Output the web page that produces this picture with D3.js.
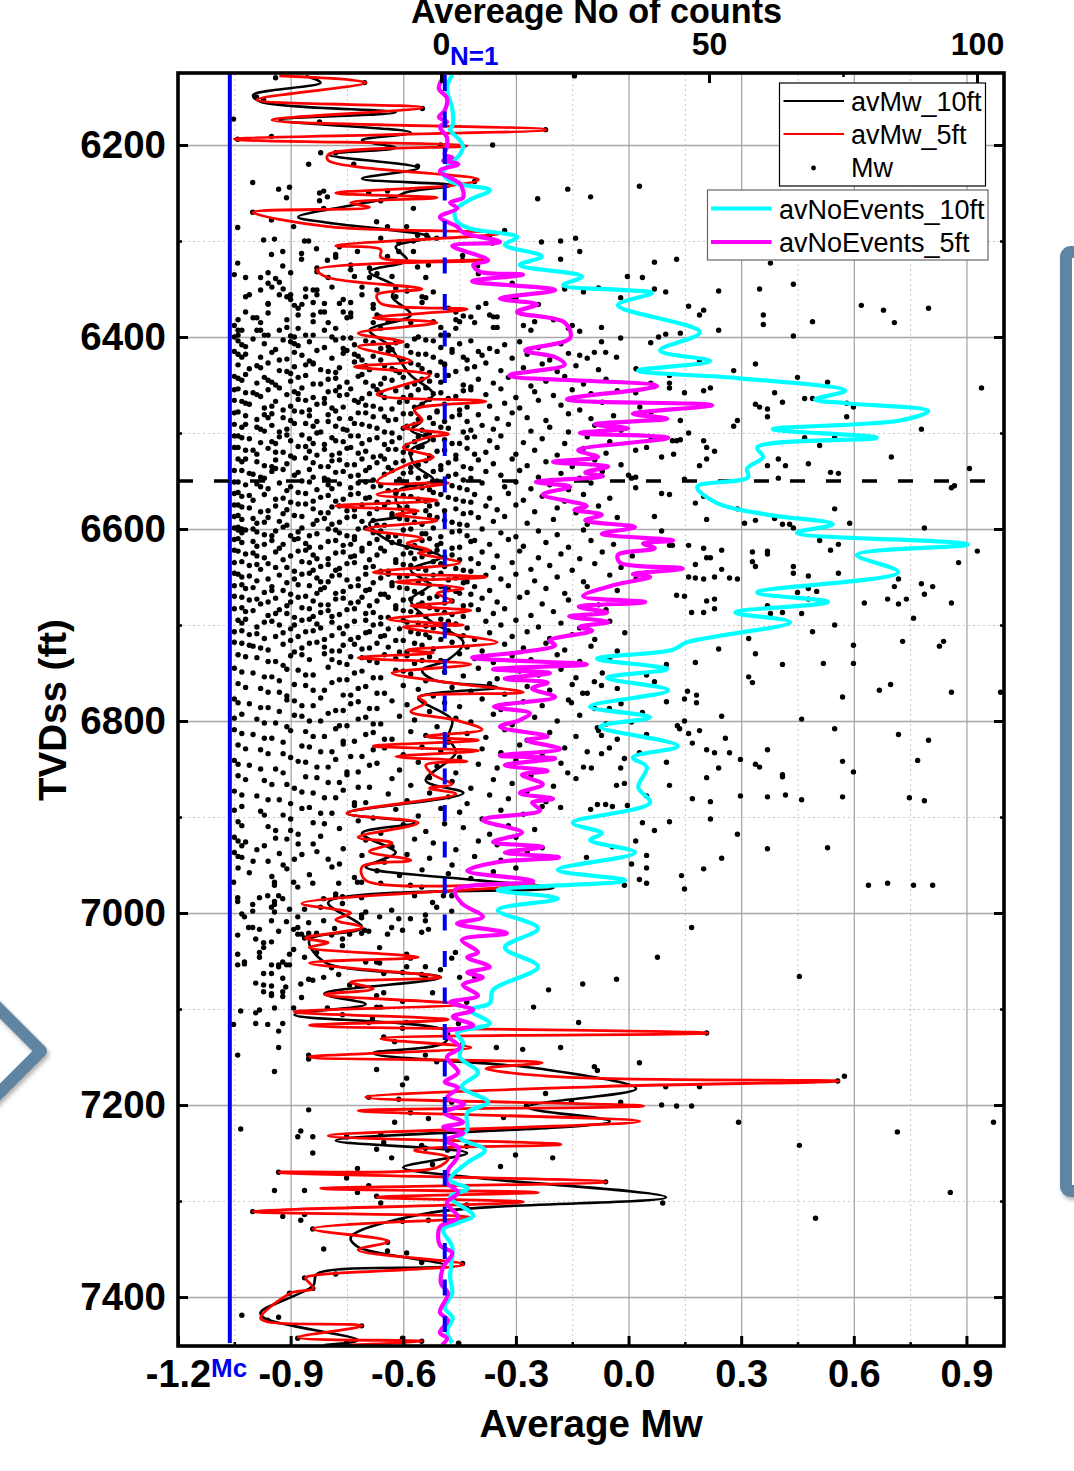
<!DOCTYPE html>
<html lang="en">
<head>
    <meta charset="UTF-8">
    <title>Average Mw vs TVDss</title>
    <script src="https://cdn.jsdelivr.net/npm/d3@7/dist/d3.min.js"></script>
    <style>
        html, body { margin: 0; background: #fff; }
        svg { display: block; font-family: "Liberation Sans", Arial, sans-serif; }
        .ticklab text { font-weight: bold; fill: #000; }
        .ticklab path, .ticklab line { display: none; }
        .grid path, .ticks path { display: none; }
        .ticks line { stroke: #000; stroke-width: 3; }
        .minorticks line { stroke-width: 2.5; }
    </style>
</head>
<body>
<svg></svg>
<script>
    // [depth ft, Mw]
    const avMw10 = [[6128,-.86],[6135,-.82],[6148,-1.00],[6155,-.98],[6166,-.62],[6174,-.93],[6187,-.58],[6195,-.71],[6203,-.62],[6210,-.80],[6224,-.56],[6235,-.71],[6242,-.47],[6249,-.59],[6254,-.62],[6263,-.74],[6275,-.88],[6281,-.80],[6296,-.53],[6306,-.62],[6320,-.59],[6332,-.69],[6348,-.62],[6358,-.63],[6377,-.58],[6393,-.69],[6408,-.64],[6424,-.61],[6440,-.58],[6460,-.52],[6476,-.57],[6487,-.55],[6497,-.58],[6507,-.53],[6518,-.58],[6533,-.57],[6549,-.52],[6559,-.61],[6570,-.62],[6585,-.60],[6594,-.69],[6612,-.64],[6629,-.50],[6643,-.58],[6658,-.53],[6674,-.58],[6695,-.53],[6718,-.44],[6736,-.48],[6747,-.55],[6757,-.52],[6765,-.35],[6776,-.56],[6799,-.47],[6817,-.48],[6833,-.46],[6862,-.54],[6875,-.44],[6896,-.75],[6906,-.57],[6917,-.71],[6937,-.62],[6945,-.66],[6952,-.70],[6966,-.40],[6974,-.20],[6989,-.80],[7015,-.71],[7028,-.85],[7051,-.81],[7067,-.50],[7084,-.81],[7095,-.70],[7106,-.89],[7124,-.48],[7135,-.49],[7146,-.68],[7162,-.24],[7183,.02],[7202,-.27],[7217,-.05],[7237,-.78],[7250,-.43],[7265,-.60],[7276,-.40],[7296,.10],[7313,-.54],[7338,-.74],[7348,-.72],[7367,-.49],[7376,-.83],[7388,-.84],[7416,-.98],[7422,-.97],[7445,-.72],[7450,-.81]];

    const avMw5 = [[6128,-.93],[6135,-.70],[6153,-.99],[6161,-.55],[6174,-.95],[6184,-.22],[6194,-1.05],[6201,-.43],[6210,-.80],[6216,-.80],[6236,-.40],[6242,-.47],[6250,-.78],[6255,-.51],[6260,-.74],[6265,-.69],[6270,-1.00],[6285,-.80],[6292,-.34],[6305,-.78],[6309,-.66],[6317,-.66],[6320,-.38],[6330,-.83],[6338,-.80],[6350,-.55],[6356,-.67],[6365,-.66],[6371,-.43],[6380,-.68],[6385,-.51],[6396,-.72],[6405,-.60],[6410,-.72],[6425,-.58],[6431,-.73],[6440,-.53],[6460,-.67],[6467,-.38],[6476,-.57],[6487,-.55],[6494,-.60],[6501,-.48],[6505,-.54],[6515,-.60],[6525,-.52],[6533,-.59],[6551,-.67],[6552,-.48],[6564,-.67],[6570,-.51],[6576,-.78],[6581,-.56],[6585,-.62],[6591,-.51],[6600,-.70],[6610,-.55],[6615,-.59],[6622,-.53],[6625,-.56],[6635,-.45],[6645,-.68],[6650,-.38],[6655,-.62],[6662,-.44],[6667,-.51],[6675,-.47],[6680,-.58],[6685,-.42],[6694,-.64],[6700,-.44],[6702,-.60],[6718,-.35],[6726,-.59],[6729,-.52],[6734,-.72],[6741,-.42],[6750,-.63],[6760,-.48],[6770,-.28],[6775,-.56],[6781,-.54],[6790,-.58],[6799,-.46],[6809,-.39],[6816,-.54],[6820,-.40],[6826,-.68],[6831,-.40],[6837,-.62],[6842,-.43],[6846,-.54],[6856,-.52],[6866,-.47],[6870,-.53],[6876,-.46],[6896,-.75],[6906,-.56],[6921,-.72],[6927,-.63],[6936,-.69],[6945,-.58],[6952,-.71],[6966,-.70],[6970,-.25],[6990,-.87],[7000,-.74],[7007,-.78],[7015,-.71],[7026,-.86],[7031,-.80],[7036,-.85],[7046,-.56],[7052,-.85],[7067,-.50],[7072,-.74],[7079,-.68],[7085,-.81],[7095,-.45],[7103,-.89],[7111,-.48],[7117,-.85],[7125,.21],[7131,-.66],[7140,-.42],[7150,-.85],[7156,-.23],[7162,-.38],[7171,-.17],[7175,.56],[7181,-.10],[7192,-.70],[7201,.04],[7206,-.72],[7217,.03],[7232,-.80],[7241,-.18],[7247,-.57],[7255,-.48],[7265,-.51],[7270,-.93],[7280,-.06],[7287,-.82],[7291,-.24],[7296,-.67],[7301,-.28],[7311,-1.00],[7317,-.42],[7329,-.84],[7342,-.64],[7351,-.72],[7366,-.44],[7377,-.83],[7380,-.86],[7391,-.84],[7396,-.90],[7422,-.98],[7426,-.96],[7430,-.71],[7442,-.88],[7446,-.55],[7450,-.75]];

    // [depth ft, number of counts]
    const avEvents10 = [[6127,2.1],[6141,1.1],[6162,2.1],[6179,2.2],[6184,1.7],[6195,3.5],[6202,4.1],[6210,3.5],[6229,.4],[6239,2.2],[6247,9.1],[6257,5.4],[6268,2.6],[6280,3.0],[6287,5.4],[6296,14.2],[6304,11.9],[6316,18.8],[6325,14.7],[6337,26.3],[6346,22.8],[6351,33.4],[6354,39.4],[6367,33.0],[6395,48.3],[6414,40.9],[6425,50.2],[6435,36.8],[6443,55.8],[6456,75.4],[6465,69.8],[6469,75.7],[6477,90.9],[6487,85.6],[6496,61.9],[6505,81.3],[6515,59.0],[6525,60.1],[6537,57.1],[6546,57.3],[6556,47.8],[6573,51.5],[6585,60.8],[6595,73.1],[6604,66.4],[6616,98.3],[6627,77.6],[6645,85.3],[6666,59.0],[6676,72.2],[6687,54.9],[6697,65.1],[6718,45.9],[6726,43.1],[6735,29.1],[6746,42.2],[6755,31.0],[6768,42.4],[6785,27.8],[6796,39.0],[6806,29.7],[6826,44.2],[6838,35.8],[6848,38.4],[6869,36.8],[6885,39.0],[6906,24.6],[6917,30.0],[6924,27.8],[6937,36.2],[6955,21.8],[6966,34.3],[6976,10.6],[6985,21.8],[6997,10.6],[7016,18.1],[7036,11.9],[7056,18.1],[7080,9.7],[7094,9.1],[7101,5.4],[7115,9.1],[7125,3.0],[7135,4.1],[7150,3.5],[7166,6.9],[7181,3.9],[7197,8.8],[7208,4.9],[7226,4.9],[7234,3.5],[7247,8.2],[7260,4.9],[7278,1.7],[7287,5.0],[7296,1.7],[7315,6.0],[7323,3.0],[7330,.4],[7348,2.1],[7379,1.7],[7396,2.1],[7411,.7],[7422,2.2],[7435,1.1],[7448,2.1]];

    const avEvents5 = [[6127,.7],[6141,-.4],[6151,1.1],[6164,.7],[6171,-.4],[6176,1.1],[6181,-.2],[6192,1.1],[6202,1.1],[6210,.7],[6213,2.1],[6216,.4],[6220,3.2],[6227,-.2],[6240,3.5],[6247,4.1],[6255,4.1],[6260,1.7],[6266,3.0],[6275,-.2],[6285,3.0],[6291,4.1],[6301,11.0],[6305,2.1],[6320,8.8],[6325,6.0],[6332,7.3],[6335,15.3],[6342,5.8],[6351,21.3],[6360,11.0],[6366,17.9],[6374,14.2],[6385,23.1],[6401,24.1],[6414,15.7],[6421,21.3],[6429,23.1],[6440,12.7],[6451,40.3],[6465,23.5],[6471,50.6],[6480,35.8],[6485,42.2],[6491,28.7],[6495,34.9],[6500,25.9],[6505,42.4],[6518,25.6],[6525,29.3],[6530,20.9],[6535,31.2],[6541,26.9],[6545,30.2],[6551,17.7],[6556,24.1],[6564,19.0],[6576,27.2],[6580,24.9],[6585,30.0],[6591,26.9],[6598,36.2],[6605,30.0],[6612,43.3],[6615,37.7],[6620,39.9],[6627,33.0],[6635,33.4],[6641,45.1],[6647,35.8],[6650,39.0],[6658,32.5],[6670,26.5],[6676,38.1],[6681,25.7],[6687,31.0],[6691,23.9],[6697,31.2],[6702,25.9],[6706,28.2],[6716,20.3],[6721,21.3],[6728,15.3],[6734,5.8],[6741,27.2],[6746,9.7],[6750,20.3],[6756,11.9],[6760,19.9],[6766,17.0],[6775,21.3],[6785,9.9],[6792,16.6],[6799,14.7],[6806,11.0],[6816,19.9],[6820,16.0],[6829,22.2],[6836,11.0],[6839,21.3],[6846,11.9],[6852,19.9],[6856,15.1],[6866,19.0],[6875,14.7],[6881,20.9],[6885,17.0],[6893,18.5],[6903,7.8],[6916,15.1],[6926,9.7],[6931,19.0],[6937,11.9],[6942,22.0],[6947,10.6],[6956,4.9],[6967,17.2],[6976,2.6],[6990,3.9],[7004,7.8],[7011,3.0],[7021,12.3],[7028,3.9],[7041,6.9],[7046,4.9],[7056,9.1],[7062,4.9],[7067,7.8],[7075,4.1],[7086,6.9],[7093,1.7],[7101,6.0],[7108,2.2],[7117,6.0],[7125,.7],[7140,3.5],[7150,1.1],[7166,3.2],[7176,.7],[7182,3.2],[7192,1.1],[7199,4.3],[7208,.7],[7218,4.1],[7223,.4],[7229,4.1],[7237,.7],[7244,3.2],[7255,3.0],[7268,1.3],[7281,1.1],[7291,3.2],[7302,1.1],[7317,3.2],[7327,-.2],[7346,-.2],[7354,2.1],[7369,.4],[7386,0],[7396,1.3],[7416,-.2],[7424,1.3],[7437,-.2],[7443,1.1],[7450,.2]];

    // single events [depth ft, Mw], shallow part
    const mwShallow = [[6130,-.94],[6135,-.703],[6128,-.144],[6150,-.991],[6153,-.972],[6162,-.549],[6167,-.682],[6173,-1.052],[6176,-.823],[6184,-.221],[6191,-.951],[6194,-1.041],[6200,-.501],[6200,-.362],[6208,-.82],[6208,-.78],[6220,-.852],[6220,-.732],[6222,-.562],[6238,-.41],[6239,-1.001],[6244,-.903],[6246,-.932],[6248,-.642],[6250,-.692],[6250,-.823],[6248,-.812],[6254,-.802],[6246,-.162],[6256,-.242],[6254,-.101],[6255,-.911],[6258,-.823],[6258,-.66],[6266,-.812],[6266,-.573],[6270,-1.001],[6280,-.671],[6278,-.951],[6286,-1.041],[6285,-.892],[6285,-.642],[6285,-.591],[6289,-.33],[6294,-.562],[6294,-.538],[6297,-.66],[6297,-.511],[6294,-.37],[6299,-.972],[6298,-.943],[6300,-.863],[6300,-.852],[6301,-.612],[6300,-.573],[6301,-.232],[6300,-.181],[6297,-.141],[6302,-.362],[6308,-.831],[6306,-.77],[6311,-.921],[6314,-.951],[6313,-.871],[6314,-.78],[6311,-.722],[6311,-.612],[6311,-.573],[6311,-.13],[6319,-.871],[6320,-.802],[6317,-.78],[6316,-.642],[6315,-.442],[6320,-.442],[6319,-.181],[6323,-1.041],[6326,-.921],[6325,-.74],[6327,-.562],[6325,-.533],[6326,-.402],
    [6335,-1.05],[6338,-1.02],[6338,-.98],[6333,-.96],[6339,-.94],[6343,-.93],[6333,-.90],[6328,-.83],[6332,-.83],[6338,-.80],[6330,-.74],[6337,-.73],[6328,-.69],[6338,-.69],[6334,-.67],[6337,-.63],[6338,-.54],[6334,-.40],[6344,-.31],[6350,-.17],[6353,-.12],[6349,-.08],[6353,-.52],[6349,-.62],[6352,-.59],[6351,-.67],[6348,-.71],[6356,-.71],[6348,-.79],[6351,-.83],[6351,-.84],[6350,-.86],[6344,-.96],[6348,-.95],[6351,-.98],[6350,-.92],[6356,-.93],[6356,-1.01],[6358,-1.02],[6356,-.90],[6358,-.91],[6361,-.90],[6356,-.83],[6358,-.86],[6364,-.84],[6361,-.76],[6365,-.77],[6364,-.74],[6365,-.81],[6366,-.87],[6367,-.89],[6370,-.88],[6365,-.96],[6366,-.96],[6374,-1.02],[6375,-.96],[6366,-.68],[6370,-.68],[6358,-.62],[6358,-.55],[6359,-.54],[6364,-.55],[6370,-.48],[6369,-.40],[6365,-.38],[6358,-.31],[6359,-.30],[6366,-.24],[6374,-.81],[6374,-.82],[6377,-.88],[6374,-.76],[6375,-.74],[6379,-.74],[6380,-.75],[6377,-.67],[6379,-.66],[6374,-.46],[6378,-.44],[6382,-.46],[6384,-.45],[6379,-.42],[6385,-.41],[6377,-.37],[6379,-.36],[6379,-.35],[6390,-.36],[6390,-.35],[6388,-.28],[6393,-.26],[6384,-.25],[6382,-.20],[6388,-.15],[6391,-.16],[6394,-.13],[6380,-1.00],[6380,-.99],[6382,-1.04],[6388,-1.05],[6393,-1.03],[6393,-1.04],[6385,-.98],[6393,-.98],[6393,-.99],[6398,-.97],[6382,-.91],[6390,-.91],[6393,-.93],[6384,-.84],[6385,-.80],[6377,-.84],[6391,-.78],[6393,-.81],[6398,-.84],[6398,-.86],[6391,-.88],[6399,-.90],[6400,-.89],[6398,-1.04],[6400,-1.05],[6398,-.96],[6384,-.64],[6385,-.68],[6391,-.66],[6385,-.58],[6384,-.52],[6390,-.50],[6398,-.48],[6391,-.46],[6398,-.50],[6400,-.79],[6401,-.74],[6401,-.76],[6400,-.56]];

    // dense part of the cloud, read band by band
    const mwCloud = [
    [6404,-1.04],[6402,-1.00],[6407,-.97],[6403,-.92],[6409,-.88],[6405,-.85],[6411,-.81],[6403,-.78],[6408,-.73],[6404,-.70],[6412,-.66],[6406,-.62],[6409,-.59],[6403,-.54],[6411,-.50],[6407,-.45],[6404,-.42],[6412,-.37],[6408,-.33],[6405,-.29],[6411,-.24],[6407,-.18],
    [6415,-1.05],[6418,-1.02],[6421,-.98],[6416,-.95],[6423,-.91],[6419,-.87],[6414,-.83],[6422,-.79],[6417,-.76],[6424,-.71],[6420,-.68],[6415,-.64],[6423,-.60],[6418,-.56],[6421,-.52],[6416,-.47],[6424,-.43],[6419,-.39],[6415,-.35],[6422,-.31],[6418,-.27],[6424,-.21],[6417,-.16],[6422,-.11],
    [6429,-1.04],[6433,-1.01],[6427,-.96],[6435,-.93],[6431,-.89],[6428,-.84],[6436,-.80],[6432,-.77],[6426,-.73],[6434,-.69],[6430,-.65],[6437,-.61],[6427,-.58],[6433,-.55],[6429,-.49],[6436,-.46],[6431,-.41],[6427,-.38],[6435,-.34],[6432,-.28],[6428,-.23],[6436,-.19],[6430,-.14],[6434,-.08],[6433,.02],
    [6441,-1.05],[6445,-1.03],[6448,-.99],[6442,-.97],[6450,-.94],[6446,-.90],[6440,-.86],[6449,-.82],[6443,-.78],[6447,-.75],[6441,-.72],[6451,-.68],[6445,-.63],[6442,-.60],[6449,-.57],[6446,-.53],[6440,-.48],[6450,-.44],[6444,-.40],[6448,-.36],[6442,-.32],[6451,-.26],[6446,-.22],[6441,-.17],[6449,-.12],[6444,-.06],
    [6454,-1.04],[6458,-1.02],[6462,-.98],[6455,-.96],[6460,-.91],[6453,-.87],[6463,-.84],[6457,-.80],[6461,-.77],[6454,-.74],[6459,-.69],[6463,-.65],[6456,-.62],[6461,-.58],[6453,-.54],[6458,-.50],[6462,-.46],[6455,-.42],[6460,-.38],[6454,-.34],[6463,-.30],[6457,-.25],[6461,-.20],[6455,-.15],[6459,-.10],[6456,-.03],
    [6466,-1.05],[6470,-1.01],[6474,-.97],[6467,-.94],[6472,-.90],[6465,-.88],[6476,-.85],[6469,-.81],[6473,-.76],[6466,-.73],[6471,-.70],[6475,-.66],[6468,-.61],[6473,-.57],[6465,-.53],[6470,-.49],[6476,-.45],[6467,-.41],[6472,-.37],[6469,-.33],[6474,-.29],[6466,-.24],[6471,-.18],[6476,-.13],[6468,-.07],[6473,.03],
    [6478,-1.04],[6482,-1.02],[6486,-.99],[6480,-.95],[6484,-.92],[6477,-.89],[6488,-.83],[6481,-.80],[6485,-.77],[6479,-.72],[6483,-.68],[6487,-.64],[6480,-.60],[6486,-.56],[6478,-.51],[6483,-.47],[6488,-.43],[6481,-.40],[6485,-.35],[6479,-.31],[6484,-.27],[6487,-.22],[6480,-.16],[6485,-.10],[6482,-.04],[6478,.06],
    [6491,-1.05],[6494,-1.03],[6498,-.97],[6492,-.95],[6496,-.91],[6490,-.86],[6499,-.82],[6493,-.78],[6497,-.75],[6491,-.71],[6495,-.67],[6500,-.63],[6493,-.59],[6497,-.55],[6490,-.52],[6495,-.48],[6499,-.44],[6492,-.39],[6496,-.36],[6491,-.32],[6498,-.26],[6494,-.21],[6499,-.16],[6492,-.09],[6497,-.02],
    [6503,-1.04],[6506,-1.01],[6510,-.98],[6504,-.93],[6508,-.90],[6502,-.87],[6511,-.84],[6505,-.79],[6509,-.76],[6503,-.72],[6507,-.69],[6512,-.65],[6505,-.61],[6509,-.57],[6502,-.54],[6507,-.49],[6511,-.45],[6504,-.41],[6508,-.37],[6503,-.34],[6510,-.28],[6506,-.23],[6511,-.17],[6504,-.11],[6509,-.05],[6507,.06],
    [6515,-1.05],[6518,-1.02],[6522,-.99],[6516,-.96],[6520,-.92],[6514,-.88],[6523,-.83],[6517,-.81],[6521,-.77],[6515,-.74],[6519,-.70],[6524,-.66],[6517,-.62],[6521,-.58],[6514,-.55],[6519,-.51],[6523,-.46],[6516,-.43],[6520,-.38],[6515,-.35],[6522,-.30],[6518,-.25],[6523,-.19],[6516,-.12],[6521,-.06],
    [6527,-1.04],[6530,-1.03],[6534,-.97],[6528,-.94],[6532,-.91],[6526,-.86],[6535,-.82],[6529,-.79],[6533,-.75],[6527,-.71],[6531,-.67],[6536,-.64],[6529,-.60],[6533,-.56],[6526,-.53],[6531,-.48],[6535,-.44],[6528,-.40],[6532,-.36],[6527,-.31],[6534,-.27],[6530,-.22],[6535,-.15],[6528,-.09],[6533,-.02],
    [6539,-1.05],[6542,-1.01],[6546,-.98],[6540,-.95],[6544,-.89],[6538,-.85],[6547,-.81],[6541,-.78],[6545,-.74],[6539,-.70],[6543,-.65],[6548,-.61],[6541,-.58],[6545,-.54],[6538,-.50],[6543,-.46],[6547,-.42],[6540,-.38],[6544,-.34],[6539,-.29],[6546,-.24],[6542,-.18],[6547,-.13],[6540,-.07],
    [6551,-1.04],[6554,-1.02],[6558,-.96],[6552,-.93],[6556,-.90],[6550,-.87],[6559,-.83],[6553,-.77],[6557,-.74],[6551,-.70],[6555,-.66],[6560,-.62],[6553,-.59],[6557,-.55],[6550,-.51],[6555,-.47],[6559,-.43],[6552,-.39],[6556,-.33],[6551,-.30],[6558,-.26],[6554,-.21],[6559,-.16],[6552,-.10],
    [6563,-1.05],[6566,-1.03],[6570,-1.00],[6564,-.97],[6568,-.92],[6562,-.88],[6571,-.84],[6565,-.80],[6569,-.76],[6563,-.72],[6567,-.69],[6572,-.64],[6565,-.60],[6569,-.56],[6562,-.52],[6567,-.48],[6571,-.44],[6564,-.41],[6568,-.37],[6563,-.32],[6570,-.28],[6566,-.23],[6571,-.17],[6564,-.12],[6568,-.05],
    [6575,-1.04],[6578,-1.01],[6582,-.98],[6576,-.94],[6580,-.91],[6574,-.86],[6583,-.82],[6577,-.79],[6581,-.75],[6575,-.71],[6579,-.67],[6584,-.63],[6577,-.59],[6581,-.54],[6574,-.51],[6579,-.46],[6583,-.42],[6576,-.38],[6580,-.35],[6575,-.30],[6582,-.25],[6578,-.19],[6583,-.14],[6576,-.08],
    [6587,-1.05],[6590,-1.03],[6594,-.99],[6588,-.96],[6592,-.93],[6586,-.89],[6595,-.84],[6589,-.81],[6593,-.77],[6587,-.73],[6591,-.68],[6596,-.65],[6589,-.61],[6593,-.57],[6586,-.53],[6591,-.49],[6595,-.45],[6588,-.40],[6592,-.36],[6587,-.33],[6594,-.27],[6590,-.20],[6595,-.11],[6588,-.03],
    [6599,-1.05],[6601,-1.04],[6604,-1.03],[6600,-1.00],[6606,-.97],[6602,-.94],[6607,-.90],[6599,-.87],[6605,-.83],[6601,-.78],[6607,-.75],[6600,-.72],[6604,-.68],[6608,-.64],[6601,-.60],[6605,-.55],[6599,-.52],[6603,-.47],[6607,-.43],[6600,-.39],[6604,-.34],[6608,-.30],[6602,-.24],[6606,-.19],[6601,-.12],[6605,-.06],
    [6611,-1.05],[6614,-1.03],[6618,-.99],[6612,-.95],[6616,-.92],[6610,-.88],[6619,-.85],[6613,-.80],[6617,-.76],[6611,-.73],[6615,-.69],[6620,-.66],[6613,-.61],[6617,-.57],[6610,-.53],[6615,-.50],[6619,-.45],[6612,-.41],[6616,-.37],[6611,-.32],[6618,-.28],[6614,-.22],[6619,-.16],[6612,-.10],[6616,-.04],
    [6623,-1.04],[6626,-1.02],[6630,-.97],[6624,-.94],[6628,-.90],[6622,-.86],[6631,-.83],[6625,-.78],[6629,-.74],[6623,-.71],[6627,-.67],[6632,-.62],[6625,-.58],[6629,-.55],[6622,-.51],[6627,-.47],[6631,-.42],[6624,-.39],[6628,-.35],[6623,-.29],[6630,-.24],[6626,-.18],[6631,-.13],[6624,-.07],[6628,.01],
    [6635,-1.05],[6638,-1.01],[6642,-.98],[6636,-.96],[6640,-.91],[6634,-.87],[6643,-.84],[6637,-.80],[6641,-.77],[6635,-.73],[6639,-.68],[6644,-.64],[6637,-.60],[6641,-.56],[6634,-.52],[6639,-.49],[6643,-.44],[6636,-.40],[6640,-.36],[6635,-.31],[6642,-.26],[6638,-.21],[6643,-.15],[6636,-.09],[6640,-.02],
    [6647,-1.04],[6650,-1.03],[6654,-.99],[6648,-.93],[6652,-.89],[6646,-.85],[6655,-.82],[6649,-.79],[6653,-.75],[6647,-.70],[6651,-.66],[6656,-.63],[6649,-.59],[6653,-.54],[6646,-.50],[6651,-.46],[6655,-.43],[6648,-.38],[6652,-.34],[6647,-.30],[6654,-.25],[6650,-.19],[6655,-.12],[6648,-.05],[6652,.02],
    [6659,-1.05],[6662,-1.02],[6666,-.97],[6660,-.95],[6664,-.92],[6658,-.88],[6667,-.83],[6661,-.81],[6665,-.76],[6659,-.72],[6663,-.69],[6668,-.65],[6661,-.61],[6665,-.57],[6658,-.53],[6663,-.48],[6667,-.45],[6660,-.41],[6664,-.37],[6659,-.32],[6666,-.27],[6662,-.22],[6667,-.17],[6660,-.11],[6664,-.03],
    [6671,-1.03],[6674,-1.01],[6678,-.98],[6672,-.94],[6676,-.90],[6670,-.86],[6679,-.82],[6673,-.78],[6677,-.74],[6671,-.71],[6675,-.67],[6680,-.62],[6673,-.58],[6677,-.55],[6670,-.51],[6675,-.47],[6679,-.42],[6672,-.39],[6676,-.35],[6671,-.29],[6678,-.23],[6674,-.16],[6679,-.08],
    [6683,-1.05],[6686,-1.02],[6690,-.96],[6684,-.93],[6688,-.91],[6682,-.87],[6691,-.84],[6685,-.80],[6689,-.77],[6683,-.73],[6687,-.68],[6692,-.64],[6685,-.60],[6689,-.56],[6682,-.53],[6687,-.49],[6691,-.44],[6684,-.40],[6688,-.36],[6683,-.33],[6690,-.26],[6686,-.20],[6691,-.12],[6684,-.06],
    [6695,-1.04],[6698,-1.03],[6702,-.99],[6696,-.95],[6700,-.89],[6694,-.85],[6703,-.82],[6697,-.79],[6701,-.75],[6695,-.70],[6699,-.66],[6704,-.61],[6697,-.59],[6701,-.54],[6694,-.50],[6699,-.46],[6703,-.43],[6696,-.38],[6700,-.34],[6695,-.30],[6702,-.24],[6698,-.18],[6703,-.13],[6696,-.05],
    [6707,-1.05],[6710,-1.01],[6714,-.97],[6708,-.92],[6712,-.88],[6706,-.84],[6715,-.81],[6709,-.76],[6713,-.72],[6707,-.69],[6711,-.65],[6716,-.60],[6709,-.56],[6713,-.53],[6706,-.48],[6711,-.44],[6715,-.41],[6708,-.37],[6712,-.31],[6707,-.27],[6714,-.21],[6710,-.15],[6715,-.09],[6708,-.01],
    [6719,-1.03],[6722,-1.00],[6726,-.96],[6720,-.92],[6724,-.87],[6718,-.83],[6727,-.79],[6721,-.76],[6725,-.71],[6719,-.67],[6723,-.64],[6728,-.59],[6721,-.55],[6725,-.52],[6718,-.47],[6723,-.43],[6727,-.39],[6720,-.33],[6724,-.28],[6719,-.22],[6726,-.17],[6722,-.10],[6727,-.03],
    [6731,-1.04],[6734,-.99],[6738,-.94],[6732,-.90],[6736,-.85],[6730,-.81],[6739,-.77],[6733,-.74],[6737,-.69],[6731,-.65],[6735,-.62],[6740,-.57],[6733,-.53],[6737,-.50],[6730,-.45],[6735,-.41],[6739,-.36],[6732,-.31],[6736,-.26],[6731,-.19],[6738,-.13],[6734,-.05],
    [6745,-1.05],[6750,-1.00],[6754,-.95],[6746,-.91],[6752,-.86],[6744,-.80],[6757,-.75],[6748,-.71],[6755,-.66],[6747,-.62],[6751,-.58],[6758,-.54],[6749,-.49],[6753,-.44],[6745,-.40],[6756,-.35],[6748,-.29],[6752,-.24],[6746,-.18],[6755,-.14],[6750,-.07],
    [6761,-1.04],[6766,-.98],[6770,-.93],[6762,-.89],[6768,-.84],[6760,-.79],[6773,-.74],[6764,-.70],[6771,-.65],[6763,-.60],[6767,-.56],[6774,-.52],[6765,-.47],[6769,-.42],[6761,-.37],[6772,-.33],[6764,-.27],[6768,-.21],[6762,-.15],[6771,-.11],[6766,-.03],
    [6777,-1.05],[6782,-1.01],[6786,-.96],[6778,-.91],[6784,-.87],[6776,-.82],[6789,-.76],[6780,-.72],[6787,-.67],[6779,-.63],[6783,-.59],[6790,-.53],[6781,-.49],[6785,-.45],[6777,-.39],[6788,-.34],[6780,-.28],[6784,-.23],[6778,-.16],[6787,-.09],[6782,-.02],
    [6793,-1.03],[6798,-.99],[6802,-.94],[6794,-.89],[6800,-.85],[6792,-.80],[6805,-.75],[6796,-.70],[6803,-.66],[6795,-.61],[6799,-.57],[6806,-.51],[6797,-.46],[6801,-.42],[6793,-.36],[6804,-.31],[6796,-.25],[6800,-.19],[6794,-.13],[6803,-.06],
    [6809,-1.05],[6814,-1.00],[6818,-.95],[6810,-.90],[6816,-.84],[6808,-.78],[6821,-.73],[6812,-.68],[6819,-.63],[6811,-.58],[6815,-.54],[6822,-.48],[6813,-.43],[6817,-.38],[6809,-.33],[6820,-.27],[6812,-.21],[6816,-.14],[6810,-.08],[6819,-.03],
    [6825,-1.04],[6830,-.98],[6834,-.92],[6826,-.87],[6832,-.82],[6824,-.76],[6837,-.71],[6828,-.65],[6835,-.60],[6827,-.55],[6831,-.50],[6838,-.45],[6829,-.39],[6833,-.34],[6825,-.29],[6836,-.23],[6828,-.17],[6832,-.11],
    [6841,-1.05],[6846,-1.01],[6850,-.94],[6842,-.88],[6848,-.83],[6840,-.78],[6853,-.72],[6844,-.67],[6851,-.61],[6843,-.56],[6847,-.51],[6854,-.46],[6845,-.40],[6849,-.35],[6841,-.30],[6852,-.24],[6844,-.18],[6848,-.12],
    [6857,-1.04],[6862,-.97],[6866,-.91],[6858,-.86],[6864,-.80],[6856,-.75],[6869,-.69],[6860,-.63],[6867,-.58],[6859,-.53],[6863,-.47],[6870,-.42],[6861,-.36],[6865,-.31],[6857,-.26],[6868,-.20],[6860,-.14],
    [6873,-1.05],[6878,-.99],[6882,-.93],[6874,-.87],[6880,-.81],[6872,-.76],[6885,-.70],[6876,-.64],[6883,-.59],[6875,-.53],[6879,-.48],[6886,-.43],[6877,-.37],[6881,-.32],[6873,-.27],[6884,-.22],
    [6889,-1.03],[6894,-.98],[6898,-.92],[6890,-.85],[6896,-.79],[6888,-.73],[6901,-.68],[6892,-.62],[6899,-.56],[6891,-.50],[6895,-.45],[6902,-.39],[6893,-.34],[6897,-.28],[6889,-.23],
    [6905,-1.04],[6910,-.96],[6914,-.90],[6906,-.84],[6912,-.77],[6904,-.72],[6917,-.66],[6908,-.60],[6915,-.54],[6907,-.49],[6911,-.44],[6918,-.37],[6909,-.32],[6913,-.25],
    [6921,-1.05],[6926,-1.02],[6930,-.97],[6922,-.94],[6928,-.88],[6920,-.82],[6933,-.76],[6924,-.70],[6931,-.63],[6923,-.57],[6927,-.52],[6934,-.46],[6925,-.40],[6929,-.35],[6921,-.30],[6932,-.23],
    [6937,-1.05],[6942,-1.03],[6946,-.96],[6938,-.93],[6944,-.89],[6936,-.83],[6949,-.77],[6940,-.71],[6947,-.65],[6939,-.59],[6943,-.53],[6950,-.47],[6941,-.41],[6945,-.34],[6937,-.27],
    [6953,-1.04],[6958,-1.01],[6962,-.95],[6954,-.91],[6960,-.85],[6952,-.79],[6963,-.73],[6956,-.67],[6961,-.61],[6955,-.55],[6959,-.48],[6964,-.42],[6957,-.36],[6953,-.30]];

    // more of the cloud: the touching pairs and clumps left of Mw -0.4
    const mwClumps = [
    [6408,-1.03],[6410,-1.02],[6413,-.94],[6405,-.90],[6407,-.89],[6412,-.76],[6414,-.75],[6406,-.68],[6410,-.64],[6413,-.63],[6402,-.57],[6404,-.52],[6413,-.47],[6415,-.40],[6418,-1.04],[6421,-1.03],[6424,-.93],[6416,-.89],[6425,-.85],[6427,-.84],[6418,-.73],[6420,-.72],[6424,-.66],[6416,-.58],[6418,-.54],[6426,-.50],[6428,-.49],[6421,-.44],
    [6430,-.99],[6432,-.98],[6436,-.91],[6438,-.90],[6429,-.86],[6434,-.82],[6437,-.78],[6439,-.71],[6430,-.70],[6433,-.63],[6435,-.62],[6429,-.56],[6437,-.53],[6440,-.51],[6433,-.43],[6439,-1.02],[6443,-1.04],[6445,-.96],[6447,-.95],[6442,-.88],[6449,-.84],[6444,-.80],[6452,-.77],[6447,-.70],[6449,-.66],[6443,-.65],[6452,-.59],[6444,-.55],[6447,-.50],[6452,-.42],
    [6455,-1.05],[6458,-1.00],[6460,-.99],[6453,-.93],[6457,-.89],[6459,-.88],[6464,-.81],[6456,-.78],[6460,-.75],[6464,-.71],[6455,-.67],[6458,-.66],[6463,-.60],[6455,-.56],[6459,-.52],[6464,-.48],[6456,-.44],[6467,-1.03],[6469,-1.02],[6472,-.95],[6476,-.92],[6466,-.86],[6470,-.83],[6474,-.79],[6477,-.78],[6468,-.72],[6472,-.68],[6475,-.63],[6467,-.59],[6470,-.55],[6477,-.51],[6473,-.43],
    [6479,-1.05],[6481,-.97],[6484,-.96],[6487,-.90],[6478,-.87],[6482,-.85],[6488,-.80],[6485,-.74],[6479,-.70],[6483,-.65],[6486,-.62],[6480,-.58],[6484,-.53],[6488,-.49],[6481,-.45],[6491,-1.02],[6494,-.99],[6496,-.98],[6499,-.93],[6490,-.89],[6493,-.84],[6500,-.83],[6496,-.76],[6490,-.73],[6493,-.69],[6499,-.65],[6495,-.60],[6491,-.57],[6500,-.53],[6494,-.50],[6497,-.42],
    [6503,-1.05],[6505,-1.03],[6509,-.95],[6511,-.94],[6502,-.91],[6506,-.85],[6512,-.81],[6508,-.78],[6503,-.74],[6511,-.71],[6505,-.67],[6509,-.63],[6513,-.59],[6504,-.56],[6507,-.52],[6511,-.47],[6505,-.43],[6515,-1.04],[6518,-1.00],[6520,-.94],[6524,-.90],[6514,-.86],[6519,-.85],[6523,-.79],[6516,-.75],[6521,-.72],[6525,-.68],[6517,-.64],[6520,-.60],[6515,-.56],[6524,-.53],[6518,-.49],[6522,-.41],
    [6527,-1.02],[6530,-.99],[6535,-.95],[6537,-.94],[6526,-.89],[6531,-.84],[6535,-.80],[6528,-.77],[6533,-.73],[6536,-.69],[6527,-.65],[6531,-.62],[6536,-.58],[6529,-.54],[6534,-.50],[6527,-.46],[6537,-.42],[6539,-1.03],[6543,-1.00],[6547,-.97],[6538,-.92],[6541,-.88],[6546,-.84],[6549,-.80],[6540,-.76],[6544,-.72],[6549,-.68],[6539,-.63],[6542,-.60],[6547,-.56],[6540,-.52],[6545,-.48],[6549,-.44],
    [6551,-1.05],[6553,-.99],[6556,-.98],[6560,-.91],[6551,-.85],[6554,-.80],[6558,-.79],[6552,-.72],[6556,-.68],[6560,-.64],[6551,-.60],[6554,-.57],[6559,-.53],[6552,-.49],[6557,-.45],[6562,-1.04],[6565,-1.01],[6569,-.94],[6572,-.90],[6563,-.86],[6567,-.82],[6571,-.78],[6564,-.74],[6568,-.70],[6572,-.67],[6563,-.62],[6566,-.58],[6571,-.54],[6564,-.50],[6569,-.46],[6572,-.42],
    [6575,-1.05],[6577,-1.03],[6581,-.96],[6584,-.92],[6574,-.88],[6579,-.84],[6583,-.80],[6576,-.77],[6580,-.73],[6584,-.69],[6575,-.65],[6578,-.61],[6583,-.57],[6576,-.53],[6581,-.49],[6584,-.44],[6586,-1.04],[6589,-1.00],[6593,-.97],[6596,-.91],[6587,-.87],[6591,-.83],[6595,-.79],[6588,-.75],[6592,-.71],[6596,-.67],[6587,-.63],[6590,-.59],[6595,-.55],[6588,-.51],[6593,-.47],[6596,-.43],
    [6598,-1.04],[6600,-1.03],[6601,-1.02],[6603,-.99],[6607,-.95],[6598,-.92],[6603,-.88],[6607,-.85],[6600,-.80],[6604,-.77],[6608,-.73],[6599,-.70],[6602,-.66],[6607,-.62],[6600,-.58],[6605,-.54],[6608,-.50],[6602,-.45],[6610,-1.04],[6613,-1.00],[6616,-.97],[6620,-.93],[6611,-.89],[6615,-.86],[6619,-.82],[6612,-.78],[6616,-.74],[6620,-.71],[6611,-.67],[6614,-.63],[6619,-.59],[6612,-.55],[6617,-.51],[6620,-.47],[6613,-.42],
    [6622,-1.05],[6625,-1.00],[6628,-.99],[6632,-.92],[6623,-.88],[6627,-.84],[6631,-.80],[6624,-.76],[6628,-.73],[6632,-.69],[6623,-.65],[6626,-.60],[6631,-.57],[6624,-.53],[6629,-.49],[6632,-.45],[6634,-1.03],[6637,-.99],[6640,-.94],[6644,-.89],[6635,-.85],[6639,-.82],[6643,-.78],[6636,-.75],[6640,-.70],[6644,-.66],[6635,-.62],[6638,-.58],[6643,-.54],[6636,-.50],[6641,-.46],[6644,-.42],
    [6646,-1.05],[6649,-1.01],[6652,-.96],[6656,-.91],[6647,-.87],[6651,-.83],[6655,-.80],[6648,-.77],[6652,-.72],[6656,-.68],[6647,-.64],[6650,-.61],[6655,-.56],[6648,-.52],[6653,-.48],[6656,-.44],[6658,-1.03],[6661,-1.00],[6664,-.95],[6668,-.90],[6659,-.85],[6663,-.82],[6667,-.78],[6660,-.74],[6664,-.70],[6668,-.66],[6659,-.63],[6662,-.59],[6667,-.55],[6660,-.50],[6665,-.46],[6668,-.42],
    [6670,-1.05],[6673,-.99],[6676,-.96],[6680,-.91],[6671,-.88],[6675,-.84],[6679,-.80],[6672,-.76],[6676,-.72],[6680,-.69],[6671,-.64],[6674,-.60],[6679,-.56],[6672,-.53],[6677,-.49],[6680,-.44],[6682,-1.03],[6685,-1.00],[6688,-.94],[6692,-.89],[6683,-.85],[6687,-.82],[6691,-.79],[6684,-.75],[6688,-.70],[6692,-.66],[6683,-.62],[6686,-.58],[6691,-.54],[6684,-.51],[6689,-.47],
    [6694,-1.02],[6697,-.97],[6700,-.93],[6704,-.90],[6695,-.87],[6699,-.83],[6703,-.77],[6696,-.73],[6700,-.68],[6704,-.64],[6695,-.60],[6698,-.56],[6703,-.52],[6696,-.48],[6706,-1.03],[6709,-.99],[6712,-.94],[6716,-.90],[6707,-.86],[6711,-.79],[6715,-.74],[6708,-.70],[6712,-.66],[6716,-.62],[6707,-.58],[6710,-.54],[6715,-.50],[6718,-1.05],[6721,-1.01],[6724,-.98],[6728,-.89],[6719,-.85],[6723,-.81],[6727,-.77],[6720,-.73],[6724,-.69],[6728,-.61],[6719,-.57],
    [6733,-1.02],[6738,-.96],[6742,-.92],[6731,-.87],[6736,-.79],[6741,-.75],[6734,-.71],[6739,-.67],[6732,-.59],[6737,-.55],[6749,-1.03],[6754,-.97],[6758,-.93],[6747,-.88],[6752,-.84],[6757,-.77],[6750,-.73],[6755,-.68],[6748,-.60],[6765,-1.02],[6770,-.96],[6774,-.91],[6763,-.86],[6768,-.81],[6773,-.76],[6766,-.72],[6771,-.67],[6781,-1.04],[6786,-.98],[6790,-.93],[6779,-.89],[6784,-.84],[6789,-.78],[6782,-.74],[6787,-.69],
    [6797,-1.05],[6802,-.97],[6806,-.91],[6795,-.87],[6800,-.82],[6805,-.77],[6798,-.72],[6803,-.68],[6813,-1.03],[6818,-.97],[6822,-.92],[6811,-.86],[6816,-.81],[6821,-.76],[6814,-.70],[6819,-.65],[6829,-1.02],[6834,-.96],[6838,-.90],[6827,-.85],[6832,-.79],[6837,-.74],[6830,-.68],[6845,-1.04],[6850,-.98],[6854,-.92],[6843,-.86],[6848,-.80],[6853,-.75],[6846,-.69],[6861,-1.02],[6866,-.95],[6870,-.89],[6859,-.83],[6864,-.77],[6869,-.72],
    [6877,-1.03],[6882,-.96],[6886,-.90],[6875,-.84],[6880,-.78],[6885,-.73],[6893,-1.05],[6898,-.97],[6902,-.90],[6891,-.87],[6896,-.82],[6909,-1.03],[6914,-.94],[6918,-.88],[6907,-.81],[6925,-1.04],[6930,-1.03],[6934,-.99],[6923,-.91],[6928,-.84],[6941,-1.04],[6946,-1.00],[6950,-.92],[6939,-.87],[6944,-.80]];

    // the thin scatter outside the cloud
    const mwOuter = [[6243,.029],[6322,.069],[6319,.128],[6323,.378],[6337,-.003],[6338,.037],[6350,.069],[6353,.099],[6352,.24],[6350,.349],[6345,.439],[6359,-.021],[6368,.16],[6372,.2],[6377,.189],[6367,.62],[6372,.679],[6385,.708],[6370,.799],[6377,.359],[6387,.359],[6384,.49],[6393,.24],[6396,.138],[6397,.099],[6400,.08],[6399,.439],[6401,-.021],[6390,-.072],[6406,.059],[6405,-.072],[6419,-.13],[6416,-.091],[6416,-.061],[6421,-.032],[6425,.189],[6428,.338],[6435,.28],[6440,.109],[6442,.45],[6447,.53],[6453,.94],[6458,.389],[6453,.218],[6456,.2],[6458,.149],[6448,.109],[6453,.109],[6448,.059],[6458,.019],[6464,.469],[6464,.49],[6468,.41],[6470,.338],[6473,.349],[6475,.37],[6483,.37],[6469,.581],[6473,.599],[6483,.581],[6487,.29],[6493,.28],[6487,.138],[6500,.16],[6496,.78],[6505,.469],[6505,.549],[6513,.509],[6508,.2],[6515,.208],[6519,.229],[6507,.138],[6508,.117],[6508,.128],[6525,.088],[6522,.12],[6515,.048],[6518,.019],[6527,.208],[6534,.189],[6534,.37],[6527,.399],[6534,.418],[6532,.479],[6525,.7],[6541,.538],[6542,.559],[6537,.908],[6547,.399],[6548,.149],[6546,.019],[6547,.008],[6544,0],[6555,.868],[6557,.86],[6557,.019],[6563,.088],[6564,.109],[6573,.178],[6566,.2],[6579,.29],[6579,.549],[6587,.069],[6590,.208],[6594,.309],[6591,.338],[6589,.389],[6595,.41],[6595,.429],[6599,.439],[6594,.589],[6599,.788],[6602,.088],[6612,.509],[6616,.559],[6622,.538],[6623,.929],[6617,.16],[6617,.117],[6617,.109],[6620,.2],[6622,.248],[6624,.33],[6623,.37],[6626,.37],[6630,.208],[6630,.218],[6634,.33],[6639,.338],[6637,.178],[6642,.248],[6639,.439],[6646,.439],[6646,.559],[6649,.479],[6635,.879],[6650,.16],[6651,.178],[6652,.2],[6650,.229],[6651,.269],[6652,.29],[6652,.719],[6660,.708],[6657,.78],[6660,.81],[6668,.788],[6666,.45],[6665,.501],[6662,.479],[6669,.128],[6670,.149],[6675,.208],[6673,.229],[6673,.479],[6677,.628],[6673,.69],[6678,.719],[6673,.74],[6677,.86],[6687,.168],[6687,.2],[6683,.229],[6680,.37],[6688,.378],[6687,.41],[6688,.461],[6693,.759],[6700,.549],[6707,.49],[6714,.32],[6721,.599],[6717,.73],[6717,.839],[6722,.828],[6725,.24],[6730,.338],[6739,.178],[6741,.41],[6740,.519],[6740,.599],[6741,.101],[6752,.048],[6759,.069],[6759,-.091],[6763,-.072],[6769,.157],[6773,.181],[6781,.181],[6777,.149],[6780,.101],[6771,-.122],[6781,-.152],[6787,-.051],[6791,.037],[6801,.008],[6800,.149],[6807,-.083],[6815,-.072],[6814,.048],[6805,.13],[6808,.136],[6813,.16],[6810,.189],[6754,.32],[6760,.33],[6762,.698],[6768,.668],[6770,.86],[6770,.991],[6775,.57],[6795,.248],[6798,.461],[6808,.549],[6814,.719],[6820,.799],[6818,.258],[6823,.17],[6830,.37],[6830,.208],[6833,.229],[6833,.269],[6840,.298],[6845,.338],[6848,.349],[6849,.24],[6842,.57],[6853,.599],[6841,.77],[6859,.208],[6856,.41],[6858,.41],[6881,.17],[6884,.218],[6878,.298],[6879,.37],[6877,.418],[6882,.461],[6879,.57],[6880,.748],[6883,.788],[6902,.218],[6918,.29],[6933,.37],[6932,.53],[6943,.248],[6954,.2],[6971,.639],[6969,.69],[6971,.759],[6971,.81],[6839,-.011],[6833,.029],[6834,-.072],[6828,-.051],[6849,-.099],[6849,-.021],[6843,.101],[6854,-.162],[6867,-.032],[6865,-.011],[6867,.109],[6878,.048],[6892,-.101],[6887,-.083],[6887,-.061],[6889,-.043],[6888,-.003],[6890,-.181],[6905,.109],[6906,.037],[6914,.069],[6925,.019],[6931,-.043],[6942,-.112],[6940,.048],[6953,.048],[6969,.048],[6949,.008],[6965,.029],[6971,-.011],[6961,.141],[6975,.149],[7015,.168],[7046,.077],[7069,-.032],[7074,-.122],[7080,-.213],[7066,.455]];

    const mwDeep = [[6968,-1.052],[6968,-.943],[6971,-.943],[6968,-.892],[6969,-.841],[6973,-.881],[6969,-.772],[6968,-.722],[6968,-.711],[6969,-.66],[6971,-.581],[6973,-.551],[6984,-1.041],[6988,-1.041],[6991,-1.001],[6984,-.983],[6982,-.961],[6982,-.932],[6988,-.943],[6991,-.943],[6985,-.921],[6994,-.951],[6998,-1.001],[6999,-.943],[6996,-.903],[6996,-.863],[6994,-.82],[6985,-.812],[6980,-.78],[6983,-.78],[6983,-.762],[6990,-.762],[6984,-.711],[6982,-.57],[6989,-.522],[6994,-.511],[6982,-.493],[6982,-.471],[6998,-.471],[6997,-.631],[7001,-1.03],[7004,-1.023],[7008,-.951],[7009,-.911],[7004,-.881],[7008,-.812],[7010,-.852],[7002,-.711],[6999,-.7],[7005,-.711],[7004,-.663],[7006,-.612],[7006,-.581],[7002,-.541],[7008,-.541],[7015,-1.012],[7015,-1.001],[7017,-.983],[7019,-.932],[7017,-.892],[7015,-.881],[7016,-.783],[7018,-.703],[7019,-.692],[7015,-.631],[7018,-.602],[7017,-.533],[7020,-.551],[7023,-1.041],[7027,-.993],[7022,-.881],[7022,-.871],[7021,-.852],[7025,-.852],[7021,-.831],[7023,-.791],[7022,-.743],[7021,-.711],[7022,-.642],[7030,-.951],[7031,-.972],[7036,-.972],[7026,-.863],[7027,-.762],[7034,-.762],[7036,-.663],[7038,-.892],[7043,-.903],[7041,-.983],[7046,-.983],[7043,-1.041],[7046,-.863],[7041,-.831],[7043,-.591],[7047,-.581],[7041,-.461],[7047,-.471],[7051,-1.023],[7053,-1.023],[7054,-1.041],[7054,-.951],[7054,-.932],[7056,-.932],[7051,-.921],[7054,-.911],[7054,-.903],[7051,-.7],[7051,-.671],[7052,-.663],[7056,-.591],[7056,-.541],[7057,-.791],[7063,-.972],[7063,-.951],[7062,-.602],[7063,-.652],[7059,-.501],[7064,-.772],[7064,-.551],[7067,-.541],[7067,-.812],[7068,-.921],[7069,-.852],[7070,-.841],[7067,-.45],[7066,-.41],[7073,-.993],[7074,-.873],[7075,-.972],[7076,-.951],[7077,-.913],[7075,-.743],[7076,-.722],[7084,-.951],
    [7082,-.972],[7086,-.951],[7082,-.921],[7087,-.921],[7088,-.871],[7086,-.671],[7083,-.652],[7083,-.522],[7092,-.602],[7093,-.431],[7098,-.253],[7102,-1.033],[7104,-.993],[7101,-.983],[7099,-.943],[7099,-.892],[7099,-.802],[7098,-.671],[7098,-.66],[7106,-.762],[7110,-.682],[7114,-.692],[7114,-.591],[7115,-.453],[7114,-.133],[7116,-1.052],[7115,-.993],[7116,-.961],[7115,-.921],[7123,-.932],[7120,-.602],[7129,-.652],[7134,-.623],[7140,-.932],[7137,-.442],[7148,-.852],[7152,-.852],[7148,-1.041],[7148,-.541],[7155,-.511],[7165,-.943],[7163,-.671],[7172,-.591],[7179,-.602],[7192,-.692],[7194,-.612],[7197,-.471],[7205,-.852],[7208,-.581],[7214,-.533],[7225,-1.033],[7218,-.623],[7227,-.873],[7233,-.881],[7233,-.841],[7233,-.751],[7230,-.66],[7239,-.652],[7242,-.551],[7245,-.541],[7246,-.671],[7247,-.482],[7250,-.841],[7255,-.631],[7262,-.522],[7266,-.722],[7270,-.932],[7276,-.751],[7284,-.692],[7289,-.943],[7289,-.863],[7291,-.722],[7295,-.671],[7302,-.66],[7311,-1.001],[7316,-.921],[7314,-.863],[7320,-.873],[7321,-.602],[7320,-.533],[7329,-.841],[7343,-.642],[7350,-.812],[7352,-.642],[7354,-.591],[7364,-.551],[7365,-.442],[7376,-.78],[7380,-.863],[7391,-.841],[7396,-.903],[7419,-1.03],[7421,-.932],[7424,-.961],[7430,-.711],[7443,-.881],[7447,-.751],[7443,-.602],[7446,-.551],[7448,-.453],
    [7125,.208],[7140,-.352],[7142,-.282],[7140,-.181],[7156,.029],[7160,-.091],[7164,-.083],[7181,.099],[7181,.189],[7188,-.221],[7197,-.021],[7196,-.152],[7201,-.272],[7200,.088],[7201,.128],[7201,.168],[7213,-.333],[7243,-.431],[7252,-.301],[7255,-.202],[7264,-.341],[7280,-.061],[7302,.091],[7304,-.431],[7170,.575],[7175,.557],[7218,.293],[7228,.716],[7242,.455],[7218,.972],[7291,.857],[7318,.498]];

    const mwTicks = [-1.2, -0.9, -0.6, -0.3, 0, 0.3, 0.6, 0.9];
    const mwMinorTicks = [-1.05, -0.75, -0.45, -0.15, 0.15, 0.45, 0.75];
    const depthTicks = [6200, 6400, 6600, 6800, 7000, 7200, 7400];
    const depthMinorTicks = [6300, 6500, 6700, 6900, 7100, 7300];
    const countTicks = [0, 50, 100];
    const countMinorTicks = [25, 75];
    const mcValue = -1.062;
    const n1Count = 0.7;
    const boundaryDepth = 6550;

    const plotLeft = 178, plotRight = 1004, plotTop = 73, plotBottom = 1346;
    const plotW = plotRight - plotLeft, plotH = plotBottom - plotTop;

    const x = d3.scaleLinear().domain([-1.2, 1.0]).range([0, plotW]);
    const xCount = d3.scaleLinear().domain([-49.07, 105.04]).range([0, plotW]);
    const y = d3.scaleLinear().domain([6125, 7451]).range([0, plotH]);

    const svg = d3.select('svg').attr('width', 1074).attr('height', 1471);

    // bits of the slide around the chart
    const slide = svg.append('g')
        .attr('fill', 'none')
        .attr('stroke', '#5f85a3')
        .style('filter', 'drop-shadow(2px 3px 2px rgba(0,0,0,0.3))');
    slide.append('path')
        .attr('d', 'M-12,998L41,1051L-12,1104')
        .attr('stroke-width', 12)
        .attr('stroke-linejoin', 'round');
    slide.append('rect')
        .attr('x', 1066).attr('y', 252)
        .attr('width', 100).attr('height', 939)
        .attr('rx', 5)
        .attr('fill', '#fff')
        .attr('stroke-width', 12);

    const chart = svg.append('g').attr('transform', `translate(${plotLeft},${plotTop})`);

    svg.append('defs').append('clipPath').attr('id', 'plot')
        .append('rect').attr('width', plotW).attr('height', plotH);

    // grid
    const grid = (axis, vals, stroke, width, dash) => {
        const g = chart.append('g').attr('class', 'grid')
            .call(axis.tickValues(vals).tickFormat(''));
        g.selectAll('line')
            .attr('stroke', stroke)
            .attr('stroke-width', width)
            .attr('stroke-dasharray', dash);
    };
    grid(d3.axisBottom(x).tickSize(-plotH), mwMinorTicks, '#c8c8c8', 1, '2 3');
    grid(d3.axisLeft(y).tickSize(-plotW), depthMinorTicks, '#c8c8c8', 1, '2 3');
    grid(d3.axisBottom(x).tickSize(-plotH), mwTicks.slice(1), '#a0a0a0', 1.2, null);
    grid(d3.axisLeft(y).tickSize(-plotW), depthTicks, '#a8a8a8', 1.4, null);
    chart.selectAll('.grid').filter((d, i) => i % 2 === 0).attr('transform', `translate(0,${plotH})`);

    const plotArea = chart.append('g').attr('clip-path', 'url(#plot)');

    const lineMw = d3.line()
        .x(d => x(d[1])).y(d => y(d[0]))
        .curve(d3.curveCatmullRom.alpha(0.5));
    const lineCount = d3.line()
        .x(d => xCount(d[1])).y(d => y(d[0]))
        .curve(d3.curveCatmullRom.alpha(0.5));

    plotArea.selectAll('circle.mw')
        .data(mwShallow.concat(mwCloud, mwClumps, mwOuter, mwDeep))
        .enter()
        .append('circle')
        .attr('class', 'mw')
        .attr('cx', d => x(d[1]))
        .attr('cy', d => y(d[0]))
        .attr('r', 2.7)
        .attr('fill', '#000');

    plotArea.append('path').datum(avMw10).attr('d', lineMw)
        .attr('fill', 'none').attr('stroke', '#000').attr('stroke-width', 2.6);
    plotArea.append('path').datum(avMw5).attr('d', lineMw)
        .attr('fill', 'none').attr('stroke', '#f00').attr('stroke-width', 2.8);

    // Mc line and the 6550 ft marker
    plotArea.append('line')
        .attr('x1', x(mcValue)).attr('x2', x(mcValue))
        .attr('y1', 0).attr('y2', plotH - 3)
        .attr('stroke', '#0000f0').attr('stroke-width', 4);
    plotArea.append('line')
        .attr('x1', 0).attr('x2', plotW)
        .attr('y1', y(boundaryDepth)).attr('y2', y(boundaryDepth))
        .attr('stroke', '#000').attr('stroke-width', 3.5)
        .attr('stroke-dasharray', '15 21');

    plotArea.append('path').datum(avEvents10).attr('d', lineCount)
        .attr('fill', 'none').attr('stroke', '#00ffff').attr('stroke-width', 4.2);
    plotArea.append('path').datum(avEvents5).attr('d', lineCount)
        .attr('fill', 'none').attr('stroke', '#ff00ff').attr('stroke-width', 4.2);

    plotArea.append('line')
        .attr('x1', xCount(n1Count)).attr('x2', xCount(n1Count))
        .attr('y1', 2).attr('y2', plotH)
        .attr('stroke', '#0000f0').attr('stroke-width', 4)
        .attr('stroke-dasharray', '16 20.5');

    // tick marks on all four sides
    const ticks = (axis, vals, shift, cls) => {
        chart.append('g').attr('class', 'ticks ' + cls)
            .attr('transform', shift)
            .call(axis.tickValues(vals).tickFormat(''));
    };
    ticks(d3.axisBottom(x).tickSize(-10), mwTicks, `translate(0,${plotH})`, '');
    ticks(d3.axisBottom(x).tickSize(-4), mwMinorTicks, `translate(0,${plotH})`, 'minorticks');
    ticks(d3.axisBottom(xCount).tickSize(10), countTicks, '', '');
    ticks(d3.axisBottom(xCount).tickSize(4), countMinorTicks, '', 'minorticks');
    ticks(d3.axisRight(y).tickSize(10), depthTicks, '', '');
    ticks(d3.axisRight(y).tickSize(4), depthMinorTicks, '', 'minorticks');
    ticks(d3.axisLeft(y).tickSize(10), depthTicks, `translate(${plotW},0)`, '');
    ticks(d3.axisLeft(y).tickSize(4), depthMinorTicks, `translate(${plotW},0)`, 'minorticks');

    chart.append('rect')
        .attr('width', plotW).attr('height', plotH)
        .attr('fill', 'none')
        .attr('stroke', '#000').attr('stroke-width', 3.6);

    // tick labels, plain hyphen for the minus like the original
    chart.append('g').attr('class', 'ticklab')
        .attr('transform', `translate(0,${plotH})`)
        .call(d3.axisBottom(x).tickValues(mwTicks).tickSize(0).tickPadding(14).tickFormat(d => d.toFixed(1)))
        .attr('font-family', null).style('font-size', '38px');
    chart.append('g').attr('class', 'ticklab')
        .call(d3.axisLeft(y).tickValues(depthTicks).tickSize(0).tickPadding(12).tickFormat(d3.format('d')))
        .attr('font-family', null).style('font-size', '38.5px');
    chart.append('g').attr('class', 'ticklab')
        .call(d3.axisTop(xCount).tickValues(countTicks).tickSize(0).tickPadding(18).tickFormat(d3.format('d')))
        .attr('font-family', null).style('font-size', '32px');

    // titles
    svg.append('text')
        .attr('x', 596.5).attr('y', 23)
        .attr('text-anchor', 'middle')
        .attr('font-size', 34.2).attr('font-weight', 'bold')
        .text('Avereage No of counts');
    svg.append('text')
        .attr('x', 591).attr('y', 1437)
        .attr('text-anchor', 'middle')
        .attr('font-size', 38.5).attr('font-weight', 'bold')
        .text('Average Mw');
    svg.append('text')
        .attr('transform', 'translate(66,710) rotate(-90)')
        .attr('text-anchor', 'middle')
        .attr('font-size', 38.5).attr('font-weight', 'bold')
        .text('TVDss (ft)');
    svg.append('text')
        .attr('x', 450).attr('y', 65)
        .attr('font-size', 26).attr('font-weight', 'bold').attr('fill', '#0000f0')
        .text('N=1');
    svg.append('text')
        .attr('x', 211).attr('y', 1377)
        .attr('font-size', 26).attr('font-weight', 'bold').attr('fill', '#0000f0')
        .text('Mc');

    // legends
    const legendA = svg.append('g');
    legendA.append('rect')
        .attr('x', 779.5).attr('y', 83).attr('width', 206).attr('height', 103)
        .attr('fill', '#fff').attr('stroke', '#000').attr('stroke-width', 1.2);
    [['avMw_10ft', '#000', 101], ['avMw_5ft', '#f00', 134]].forEach(d => {
        legendA.append('line')
            .attr('x1', 783.5).attr('x2', 844).attr('y1', d[2]).attr('y2', d[2])
            .attr('stroke', d[1]).attr('stroke-width', 2.2);
        legendA.append('text')
            .attr('x', 851).attr('y', d[2] + 10).attr('font-size', 27).text(d[0]);
    });
    legendA.append('circle').attr('cx', 813.5).attr('cy', 168).attr('r', 2.4);
    legendA.append('text').attr('x', 851).attr('y', 177).attr('font-size', 27).text('Mw');

    const legendB = svg.append('g');
    legendB.append('rect')
        .attr('x', 707.5).attr('y', 190).attr('width', 280.5).attr('height', 70)
        .attr('fill', '#fff').attr('stroke', '#666').attr('stroke-width', 1.2);
    [['avNoEvents_10ft', '#00ffff', 208.5], ['avNoEvents_5ft', '#ff00ff', 242]].forEach(d => {
        legendB.append('line')
            .attr('x1', 711).attr('x2', 771.5).attr('y1', d[2]).attr('y2', d[2])
            .attr('stroke', d[1]).attr('stroke-width', 3.8);
        legendB.append('text')
            .attr('x', 779).attr('y', d[2] + 10).attr('font-size', 27).text(d[0]);
    });
</script>
</body>
</html>
